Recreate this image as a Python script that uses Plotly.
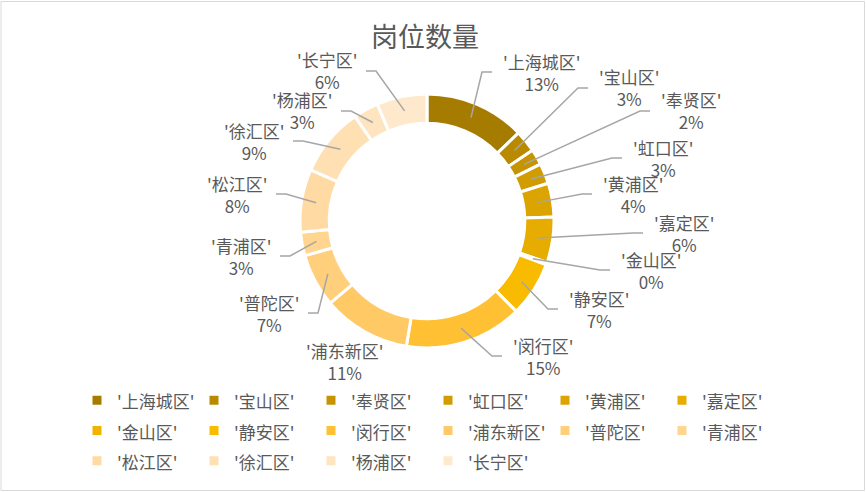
import math
import plotly.graph_objects as go

# ---------------- data ----------------
categories = ["'上海城区'", "'宝山区'", "'奉贤区'", "'虹口区'", "'黄浦区'", "'嘉定区'",
              "'金山区'", "'静安区'", "'闵行区'", "'浦东新区'", "'普陀区'", "'青浦区'",
              "'松江区'", "'徐汇区'", "'杨浦区'", "'长宁区'"]
shares = [12.8, 2.8, 2.0, 2.6, 4.3, 5.8, 0.3, 7.0, 15.0, 11.2, 6.8, 3.0, 8.0, 8.8, 3.2, 6.4]
title_text = "岗位数量"

# ---------------- style ----------------
colors = ["#A67C00", "#B98A00", "#C69400", "#D09C00", "#DBA400", "#E6AC00",
          "#EFB300", "#F9BB00", "#FFC133", "#FFC966", "#FFCF7C", "#FFD590",
          "#FFDAA2", "#FFE0B3", "#FFE4C0", "#FFE9CC"]
TEXT_COLOR = "#595959"
LINE_COLOR = "#A6A6A6"
FONT = "Noto Sans CJK SC"
W, H = 866, 492
ML, MR = 40, 40
PW = W - ML - MR
CX, CY, R_OUT, HOLE = 427, 221, 127, 0.77

# label placement (side, text edge x, text block middle y) in pixels
label_layout = [
    ("r", 502, 72), ("r", 598, 88), ("r", 660, 111), ("r", 632, 158),
    ("r", 602, 194), ("r", 653, 233), ("r", 620, 270), ("r", 568, 309),
    ("r", 512, 356), ("c", 344, 361), ("l", 300, 313), ("l", 272, 256),
    ("l", 268, 194), ("l", 285, 141), ("l", 333, 111), ("l", 358, 71),
]


def px(x):
    return (x - ML) / PW


def py(y):
    return 1 - y / H


total = sum(shares)

fig = go.Figure()
fig.add_trace(go.Pie(
    labels=[f"<span style='font-size:17px'>{c}</span>" for c in categories],
    values=shares,
    sort=False,
    direction="clockwise",
    rotation=0,
    hole=HOLE,
    textinfo="none",
    marker=dict(colors=colors, line=dict(color="white", width=3)),
    domain=dict(x=[px(CX - R_OUT), px(CX + R_OUT)], y=[py(CY + R_OUT), py(CY - R_OUT)]),
    hovertemplate="%{label}: %{percent}<extra></extra>",
))

annotations = []
shapes = []
r_mid = R_OUT * (1 + HOLE) / 2
cum = 0.0
for cat, v, (side, ex, ey) in zip(categories, shares, label_layout):
    theta = 2 * math.pi * (cum + v / 2) / total
    cum += v
    pct = round(v / total * 100)
    text = f"{cat}<br>{pct}%"
    if side == "c":
        xanchor = "center"
    elif side == "r":
        xanchor = "left"
    else:
        xanchor = "right"
    annotations.append(dict(
        x=px(ex), y=py(ey), xref="paper", yref="paper", text=text, showarrow=False,
        xanchor=xanchor, yanchor="middle", align="center", borderpad=0,
        font=dict(family=FONT, size=17, color=TEXT_COLOR),
    ))
    if side != "c":
        ax = CX + r_mid * math.sin(theta)
        ay = CY - r_mid * math.cos(theta)
        if side == "r":
            end_x = ex - 10
            elb_x = end_x - 10
        else:
            end_x = ex + 8
            elb_x = end_x + 10
        shapes.append(dict(
            type="path", xref="paper", yref="paper",
            path=f"M {px(ax)},{py(ay)} L {px(elb_x)},{py(ey)} L {px(end_x)},{py(ey)}",
            line=dict(color=LINE_COLOR, width=1.5),
        ))

annotations.append(dict(
    x=px(425), y=py(35), xref="paper", yref="paper", text=title_text, showarrow=False,
    xanchor="center", yanchor="middle",
    font=dict(family=FONT, size=27, color=TEXT_COLOR),
))

shapes.append(dict(
    type="rect", xref="paper", yref="paper",
    x0=px(1), x1=px(864.5), y0=py(490.5), y1=py(1.5),
    line=dict(color="#D9D9D9", width=1), fillcolor="rgba(0,0,0,0)", layer="below",
))

fig.update_layout(
    width=W, height=H,
    margin=dict(l=ML, r=MR, t=0, b=0),
    paper_bgcolor="white", plot_bgcolor="white",
    font=dict(family=FONT, color=TEXT_COLOR),
    showlegend=True,
    legend=dict(
        orientation="h", x=px(77), xanchor="left", y=py(380), yanchor="top",
        entrywidth=72, entrywidthmode="pixels",
        font=dict(family=FONT, size=21, color=TEXT_COLOR),
        bgcolor="rgba(0,0,0,0)", traceorder="normal",
    ),
    annotations=annotations,
    shapes=shapes,
)

fig.write_html("out.html")
